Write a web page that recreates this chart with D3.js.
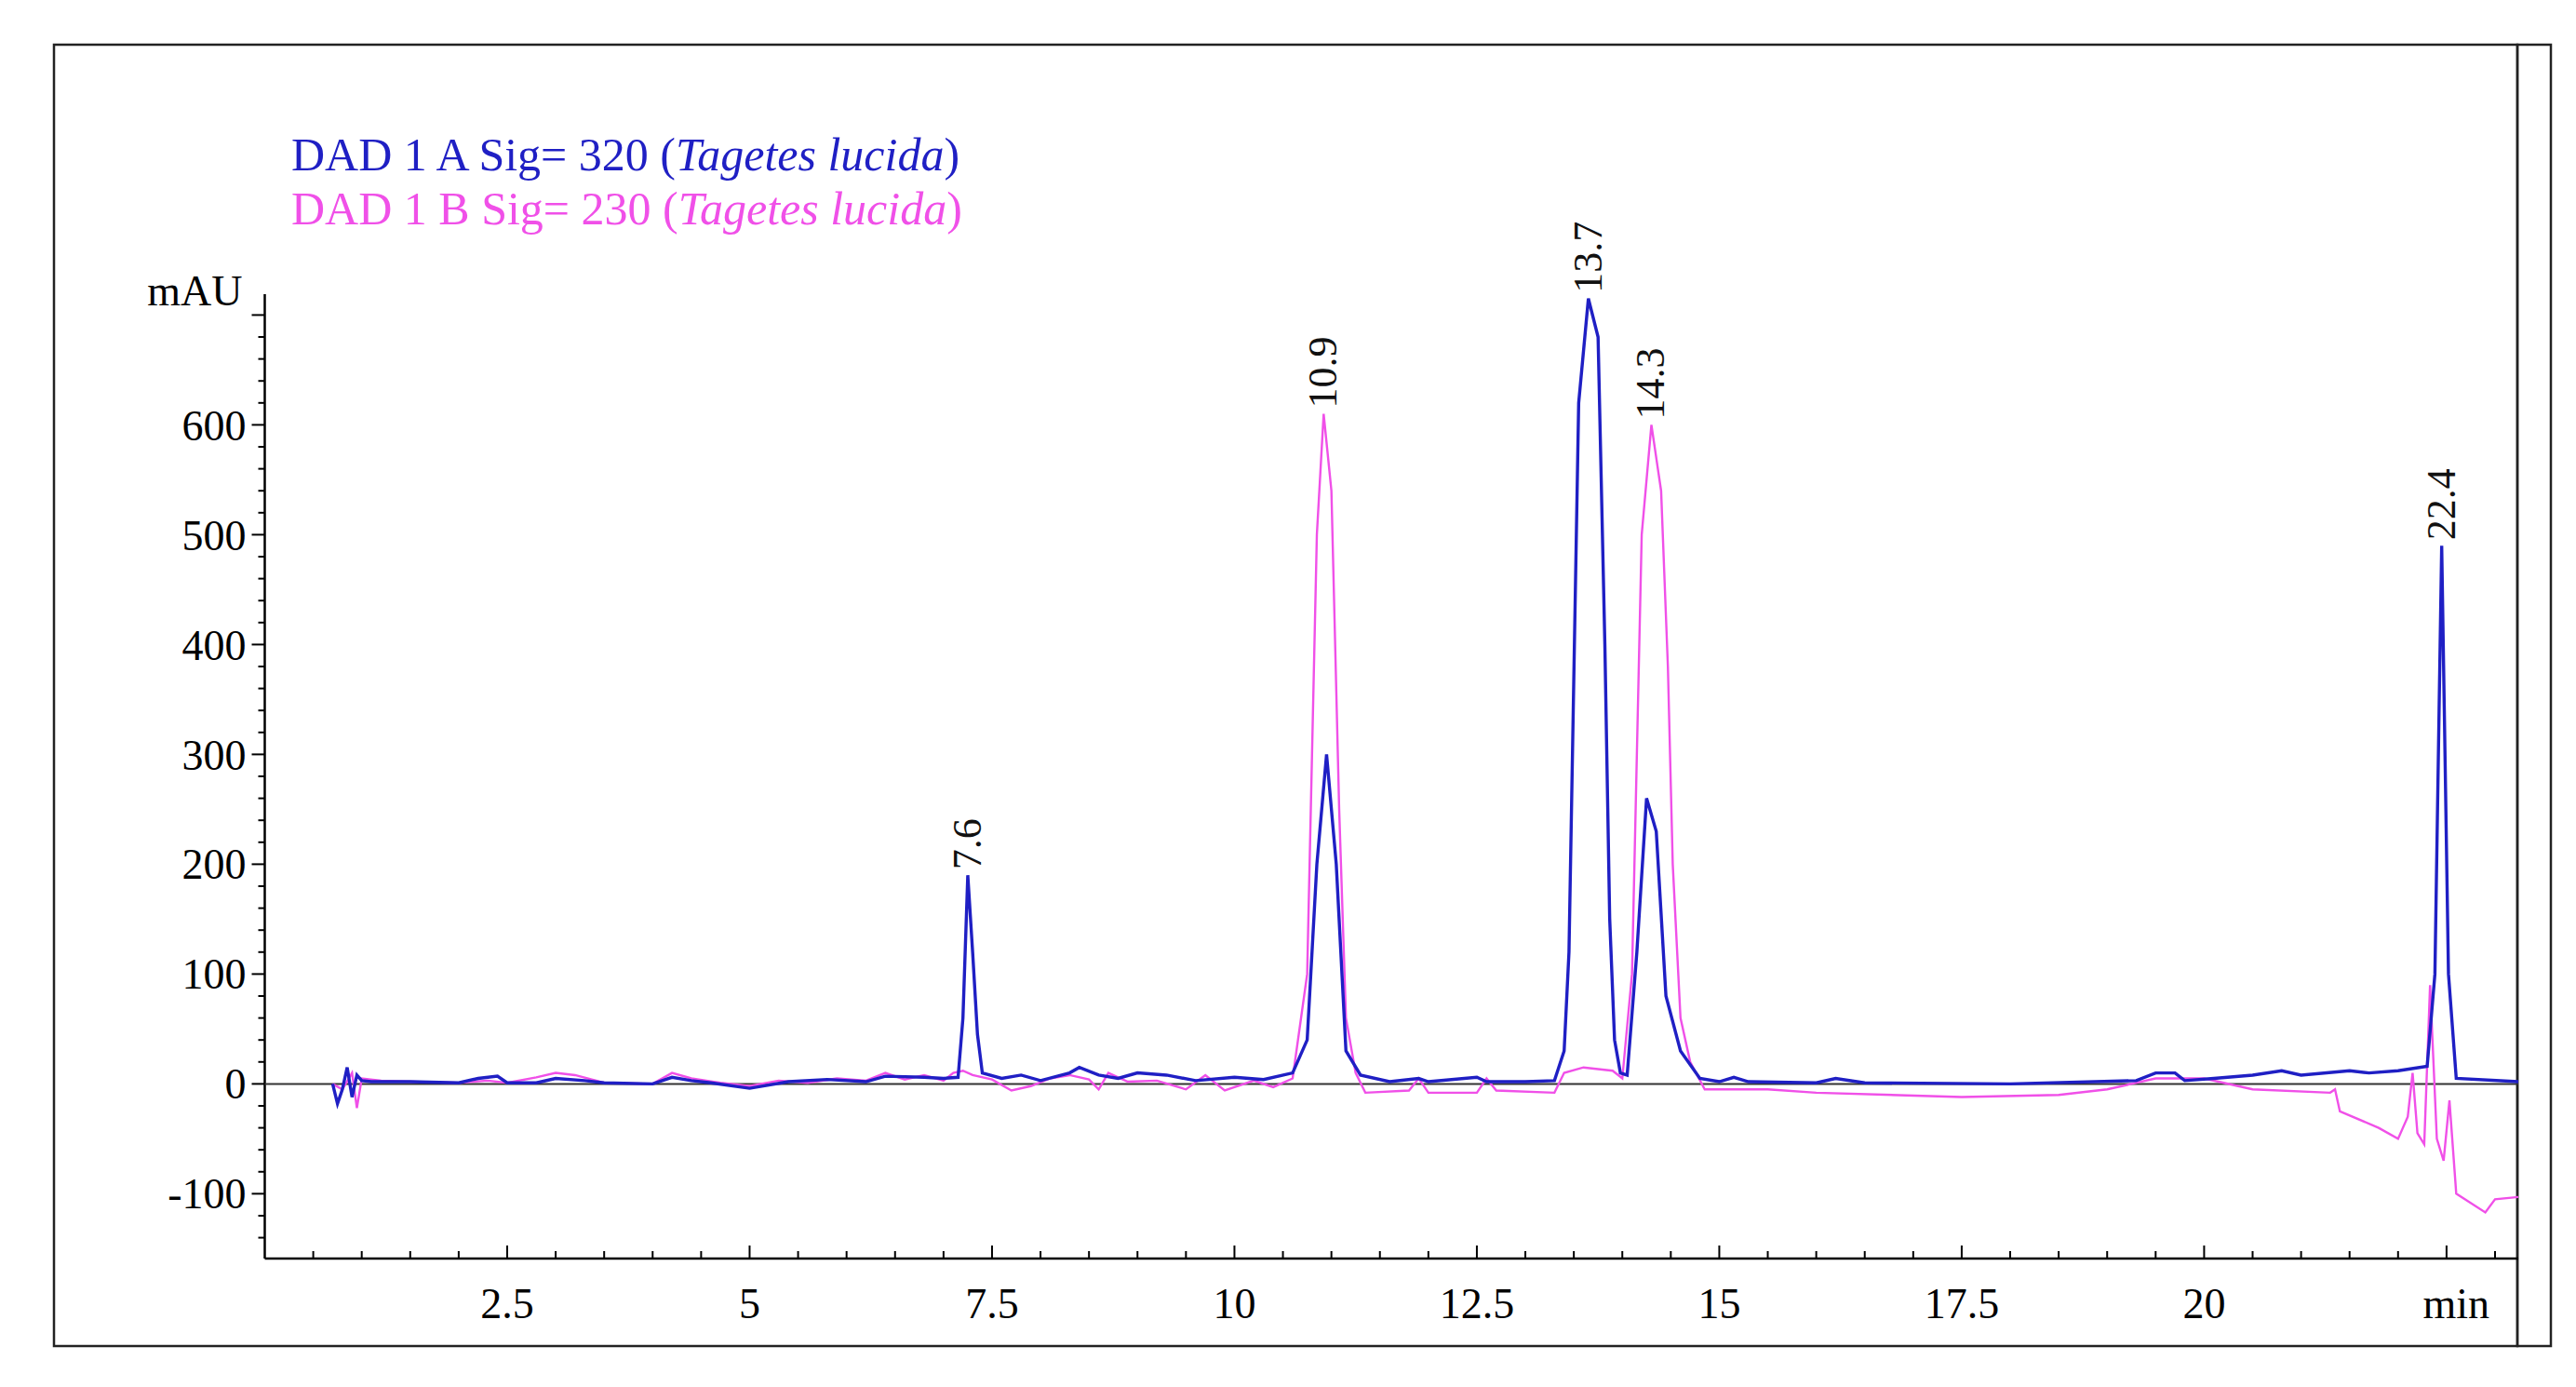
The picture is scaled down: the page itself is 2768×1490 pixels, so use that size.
<!DOCTYPE html>
<html><head><meta charset="utf-8">
<script src="https://cdn.jsdelivr.net/npm/d3@7"></script>
<style>body{margin:0;background:#fff}</style></head>
<body><svg id="c" width="2768" height="1490"></svg>
<script>
const seriesNames = ["DAD 1 A Sig= 320 (", "DAD 1 B Sig= 230 ("];
const seriesColors = ["#1f1fc4", "#f050e8"];
const xTicks = [2.5, 5, 7.5, 10, 12.5, 15, 17.5, 20];
const yTicks = [-100, 0, 100, 200, 300, 400, 500, 600];
const peakLabels = [[7.25, 190, "7.6"], [10.92, 610, "10.9"], [13.65, 715, "13.7"], [14.3, 600, "14.3"], [22.45, 490, "22.4"]];
const blueData = [[0.7,0],[0.75,-18],[0.8,-5],[0.85,15],[0.9,-12],[0.95,8],[1.0,3],[1.1,2],[1.5,2],[2.0,1],[2.2,5],[2.4,7],[2.5,1],[2.8,1],[3.0,5],[3.3,3],[3.5,1],[4.0,0],[4.2,6],[4.4,3],[4.6,1],[5.0,-4],[5.4,2],[5.8,4],[6.2,2],[6.4,7],[6.8,6],[7.0,5],[7.15,6],[7.2,60],[7.25,190],[7.3,120],[7.35,45],[7.4,10],[7.6,5],[7.8,8],[8.0,3],[8.3,10],[8.4,15],[8.6,8],[8.8,5],[9.0,10],[9.3,8],[9.6,3],[10.0,6],[10.3,4],[10.6,10],[10.75,40],[10.85,200],[10.95,300],[11.05,200],[11.15,30],[11.3,8],[11.6,2],[11.9,5],[12.0,2],[12.5,6],[12.6,2],[13.0,2],[13.3,3],[13.4,30],[13.45,120],[13.55,620],[13.65,715],[13.75,680],[13.82,400],[13.87,150],[13.92,40],[13.98,10],[14.05,8],[14.15,120],[14.25,260],[14.35,230],[14.45,80],[14.6,30],[14.8,5],[15.0,2],[15.15,6],[15.3,2],[16.0,1],[16.2,5],[16.5,1],[18,0],[19.3,3],[19.5,10],[19.7,10],[19.8,3],[20.1,5],[20.5,8],[20.8,12],[21.0,8],[21.5,12],[21.7,10],[22.0,12],[22.3,16],[22.38,100],[22.45,490],[22.52,100],[22.6,5],[23.24,2]];
const pinkData = [[0.7,0],[0.8,-5],[0.9,10],[0.95,-22],[1.0,5],[1.2,3],[1.5,2],[2.0,1],[2.3,3],[2.5,1],[2.8,6],[3.0,10],[3.2,8],[3.5,1],[4.0,0],[4.2,10],[4.4,5],[4.7,1],[5.0,-2],[5.3,3],[5.6,1],[5.9,5],[6.2,3],[6.4,10],[6.6,4],[6.8,8],[7.0,3],[7.1,10],[7.2,12],[7.3,8],[7.5,4],[7.7,-6],[7.9,-2],[8.1,5],[8.3,8],[8.5,4],[8.6,-5],[8.7,10],[8.9,2],[9.2,3],[9.5,-5],[9.7,8],[9.9,-6],[10.2,3],[10.4,-3],[10.6,5],[10.75,100],[10.85,500],[10.92,610],[11.0,540],[11.08,250],[11.15,60],[11.25,10],[11.35,-8],[11.8,-6],[11.9,5],[12.0,-8],[12.5,-8],[12.6,5],[12.7,-6],[13.3,-8],[13.4,10],[13.6,15],[13.9,12],[14.0,5],[14.1,100],[14.2,500],[14.3,600],[14.4,540],[14.47,380],[14.52,200],[14.6,60],[14.7,20],[14.85,-5],[15.5,-5],[16.0,-8],[17.5,-12],[18.5,-10],[19.0,-5],[19.5,5],[20.0,5],[20.5,-5],[21.3,-8],[21.35,-5],[21.4,-25],[21.8,-40],[22.0,-50],[22.1,-30],[22.15,10],[22.2,-45],[22.27,-55],[22.33,90],[22.4,-50],[22.47,-70],[22.53,-15],[22.6,-100],[22.9,-117],[23.0,-105],[23.24,-103]];

const svg = d3.select("#c");
const x = d3.scaleLinear().domain([0, 23.24]).range([284.5, 2706]);
const y = d3.scaleLinear().domain([-159, 719]).range([1352, 316]);
const font = "Liberation Serif, Times New Roman, serif";

svg.append("rect").attr("x",58).attr("y",48).attr("width",2647).attr("height",1398).attr("fill","none").attr("stroke","#222").attr("stroke-width",2.5);
svg.append("rect").attr("x",2705).attr("y",48).attr("width",36).attr("height",1398).attr("fill","none").attr("stroke","#222").attr("stroke-width",2.5);

const yAxis = svg.append("g").attr("transform",`translate(${x(0)},0)`);
yAxis.append("line").attr("y1",y(719)).attr("y2",y(-159)).attr("stroke","#000").attr("stroke-width",2.5);
d3.range(-140, 711, 20).forEach(v=>{
  const major = v%100===0;
  yAxis.append("line").attr("x1",major?-14:-7).attr("x2",0).attr("y1",y(v)).attr("y2",y(v)).attr("stroke","#000").attr("stroke-width",2);
});
yTicks.forEach(v=>{
  yAxis.append("text").attr("x",-20).attr("y",y(v)).attr("dy","0.35em").attr("text-anchor","end").attr("font-family",font).attr("font-size",46).text(v);
});
yAxis.append("text").attr("x",-24).attr("y",y(719)+12).attr("text-anchor","end").attr("font-family",font).attr("font-size",46).text("mAU");

const xAxis = svg.append("g").attr("transform",`translate(0,${y(-159)})`);
xAxis.append("line").attr("x1",x(0)).attr("x2",x(23.24)).attr("stroke","#000").attr("stroke-width",2.5);
d3.range(0.5, 23.2, 0.5).forEach(t=>{
  const major = Math.abs(t/2.5-Math.round(t/2.5))<1e-6;
  xAxis.append("line").attr("x1",x(t)).attr("x2",x(t)).attr("y1",0).attr("y2",major?-14:-8).attr("stroke","#000").attr("stroke-width",2);
});
xTicks.forEach(t=>{
  xAxis.append("text").attr("x",x(t)).attr("y",64).attr("text-anchor","middle").attr("font-family",font).attr("font-size",46).text(t);
});
xAxis.append("text").attr("x",x(22.6)).attr("y",64).attr("text-anchor","middle").attr("font-family",font).attr("font-size",46).text("min");

svg.append("line").attr("x1",x(0)).attr("x2",x(23.24)).attr("y1",y(0)).attr("y2",y(0)).attr("stroke","#333").attr("stroke-width",2);

const line = d3.line().x(d=>x(d[0])).y(d=>y(d[1]));
svg.append("path").datum(pinkData).attr("d",line).attr("fill","none").attr("stroke",seriesColors[1]).attr("stroke-width",2.4);
svg.append("path").datum(blueData).attr("d",line).attr("fill","none").attr("stroke",seriesColors[0]).attr("stroke-width",3.4);

peakLabels.forEach(p=>{
  svg.append("text").attr("transform",`translate(${x(p[0])+14},${y(p[1])-6}) rotate(-90)`).attr("font-family",font).attr("font-size",44).attr("fill","#111").text(p[2]);
});

seriesNames.forEach((n,i)=>{
  const t = svg.append("text").attr("x",313).attr("y",183+58*i).attr("font-family",font).attr("font-size",50).attr("fill",seriesColors[i]);
  t.append("tspan").text(n);
  t.append("tspan").attr("font-style","italic").text("Tagetes lucida");
  t.append("tspan").text(")");
});
</script></body></html>
